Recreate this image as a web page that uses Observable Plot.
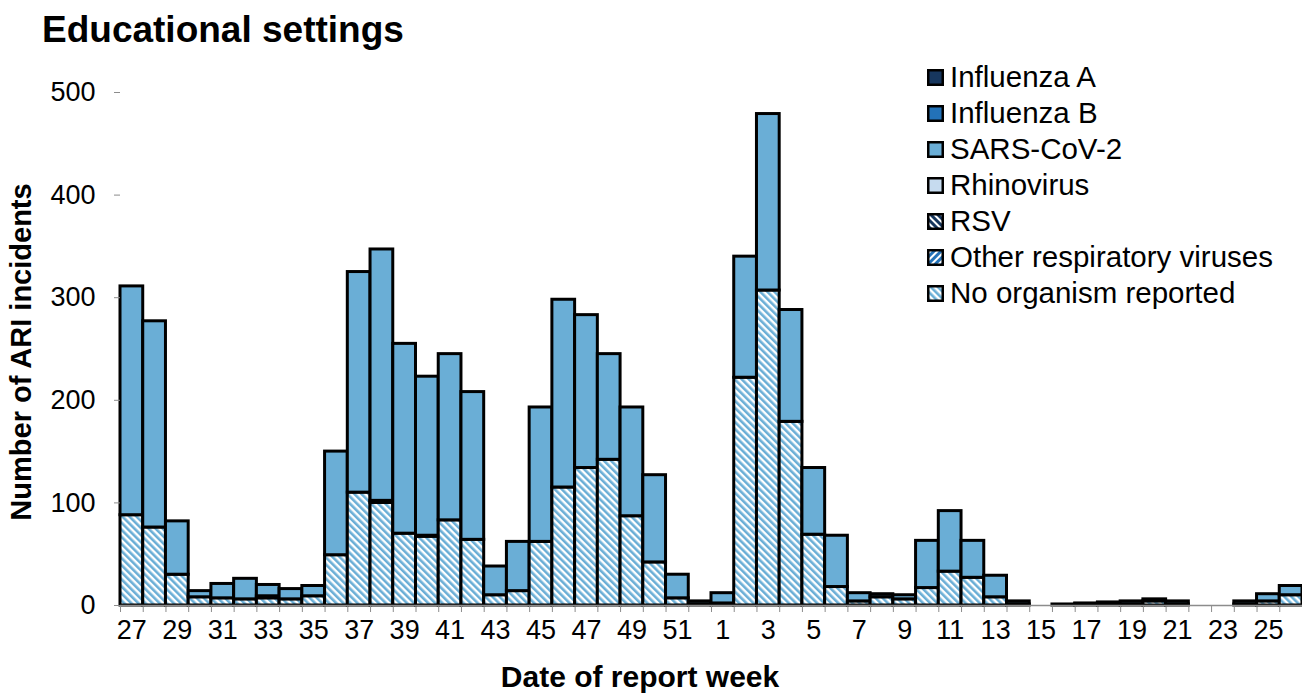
<!DOCTYPE html>
<html>
<head>
<meta charset="utf-8">
<script src="https://cdn.jsdelivr.net/npm/d3@7"></script>
<script src="https://cdn.jsdelivr.net/npm/@observablehq/plot@0.6"></script>
<style>
  html, body { margin: 0; padding: 0; background: #fff; }
  #wrap { position: relative; width: 1302px; height: 695px; overflow: hidden; font-family: "Liberation Sans", Arial, sans-serif; color: #000; }
  #chart { position: absolute; left: 0; top: 0; }
  #title { position: absolute; left: 42px; top: 30px; transform: translateY(-50%); font-weight: bold; font-size: 37px; line-height: 1.1; white-space: nowrap; }
  #ytitle { position: absolute; left: 21px; top: 352px; transform: translate(-50%, -50%) rotate(-90deg); font-weight: bold; font-size: 29px; white-space: nowrap; }
  #xtitle { position: absolute; left: 640px; top: 676px; transform: translate(-50%, -50%); font-weight: bold; font-size: 30px; line-height: 1.1; white-space: nowrap; }
  #legend { position: absolute; left: 927px; top: 59px; font-size: 29.5px; }
  .row { display: flex; align-items: center; height: 36px; white-space: nowrap; }
  .row svg { margin-right: 6px; flex: none; }
</style>
</head>
<body>
<div id="wrap">
  <svg width="0" height="0" style="position:absolute">
    <defs>
      <pattern id="pNoOrg" patternUnits="userSpaceOnUse" width="5" height="5" patternTransform="rotate(-45)">
        <rect width="5" height="5" fill="#ffffff"></rect>
        <rect width="2.6" height="5" fill="#6aaed6"></rect>
      </pattern>
      <pattern id="pOther" patternUnits="userSpaceOnUse" width="5" height="5" patternTransform="rotate(45)">
        <rect width="5" height="5" fill="#ffffff"></rect>
        <rect width="3" height="5" fill="#2372b8"></rect>
      </pattern>
      <pattern id="pRSV" patternUnits="userSpaceOnUse" width="5" height="5" patternTransform="rotate(-45)">
        <rect width="5" height="5" fill="#ffffff"></rect>
        <rect width="3" height="5" fill="#17375e"></rect>
      </pattern>
    </defs>
  </svg>
  <div id="chart"></div>
  <div id="title">Educational settings</div>
  <div id="ytitle">Number of ARI incidents</div>
  <div id="xtitle">Date of report week</div>
  <div id="legend"></div>
</div>
<script>
// ---- Data ----
const weeks = ["27","28","29","30","31","32","33","34","35","36","37","38","39","40","41","42","43","44","45","46","47","48","49","50","51","52",
               "1","2","3","4","5","6","7","8","9","10","11","12","13","14","15","16","17","18","19","20","21","22","23","24","25","26"];
const tickLabels = ["27","29","31","33","35","37","39","41","43","45","47","49","51","1","3","5","7","9","11","13","15","17","19","21","23","25"];
const yTicks = [0, 100, 200, 300, 400, 500];

const seriesNames = ["Influenza A","Influenza B","SARS-CoV-2","Rhinovirus","RSV","Other respiratory viruses","No organism reported"];
const seriesFills = ["#17375e","#2372b8","#6aaed6","#c6dbef","url(#pRSV)","url(#pOther)","url(#pNoOrg)"];

const influenzaA = [0,0,0,0,0,0,0,0,0,0,0,0,0,0,0,0,0,0,0,0,0,0,0,0,0,0, 0,0,0,0,0,0,0,0,0,0,0,0,0,0,0,0,0,0,0,0,0,0,0,0,0,0];
const influenzaB = [0,0,0,0,0,0,0,0,0,0,0,0,0,0,0,0,0,0,0,0,0,0,0,0,0,0, 0,0,0,0,0,0,0,0,0,0,0,0,0,0,0,0,0,0,0,0,0,0,0,0,0,0];
const sarsCoV2   = [223,201,52,6,14,20,11,10,10,101,215,245,185,155,162,144,28,48,131,183,149,103,106,85,23,3,
                    10,118,172,109,65,50,8,3,4,46,59,36,21,3,0,1,1,1,3,2,3,0,0,3,7,9];
const rhinovirus = [0,0,0,0,0,0,0,0,0,0,0,0,0,0,0,0,0,0,0,0,0,0,0,0,0,0, 0,0,0,0,0,0,0,0,0,0,0,0,0,0,0,0,0,0,0,0,0,0,0,0,0,0];
const rsv        = [0,0,0,0,0,0,0,0,0,0,0,0,0,0,0,0,0,0,0,0,0,0,0,0,0,0, 0,0,0,0,0,0,0,0,0,0,0,0,0,0,0,0,0,0,0,0,0,0,0,0,0,0];
const otherResp  = [0,0,0,0,0,0,2,0,0,0,0,2,0,1,0,0,0,0,0,0,0,0,0,0,0,0, 0,0,0,0,0,0,0,0,0,0,0,0,0,0,0,0,0,0,0,0,0,0,0,0,0,0];
const noOrganism = [88,76,30,8,7,6,7,6,9,49,110,100,70,67,83,64,10,14,62,115,134,142,87,42,7,1,
                    2,222,307,179,69,18,4,8,6,17,33,27,8,1,0,0,1,2,1,4,1,0,0,1,4,10];

const seriesValues = {
  "Influenza A": influenzaA,
  "Influenza B": influenzaB,
  "SARS-CoV-2": sarsCoV2,
  "Rhinovirus": rhinovirus,
  "RSV": rsv,
  "Other respiratory viruses": otherResp,
  "No organism reported": noOrganism
};
const stackOrder = seriesNames.slice().reverse();

const rows = [];
weeks.forEach((w, i) => {
  stackOrder.forEach(s => {
    const v = seriesValues[s][i];
    if (v > 0) rows.push({week: w, series: s, value: v});
  });
});

// ---- Chart ----
const W = 1302, H = 695, mL = 120, mR = 0, mT = 92, mB = 90;
const bw = (W - mL - mR) / weeks.length;

const chart = Plot.plot({
  width: W, height: H,
  marginLeft: mL, marginRight: mR, marginTop: mT, marginBottom: mB,
  style: {fontFamily: "'Liberation Sans', Arial, sans-serif", fontSize: "27px", color: "#000", background: "#fff"},
  x: {domain: weeks, padding: 0, label: null},
  y: {domain: [0, 500], label: null},
  color: {domain: seriesNames, range: seriesFills},
  marks: [
    Plot.barY(rows, {x: "week", y: "value", fill: "series", order: stackOrder, stroke: "#000", strokeWidth: 3}),
    Plot.ruleY([0], {stroke: "#8c8c8c", strokeWidth: 1.5}),
    Plot.axisY({ticks: yTicks, tickSize: 6, tickPadding: 19, line: true, stroke: "#8c8c8c", fill: "#000", fontSize: 27, label: null}),
    Plot.axisX({ticks: weeks, tickSize: 7, tickFormat: () => "", dx: -bw / 2, stroke: "#8c8c8c", label: null}),
    Plot.axisX({ticks: tickLabels, tickSize: 0, tickPadding: 14, fill: "#000", fontSize: 27, label: null})
  ]
});
document.getElementById("chart").appendChild(chart);

// ---- Legend ----
const legend = document.getElementById("legend");
seriesNames.forEach((s, i) => {
  const row = document.createElement("div");
  row.className = "row";
  row.innerHTML = `<svg width="17" height="17"><rect x="1.25" y="1.25" width="14.5" height="14.5" fill="${seriesFills[i]}" stroke="#000" stroke-width="2.5"></rect></svg><span>${s}</span>`;
  legend.appendChild(row);
});
</script>
</body>
</html>
